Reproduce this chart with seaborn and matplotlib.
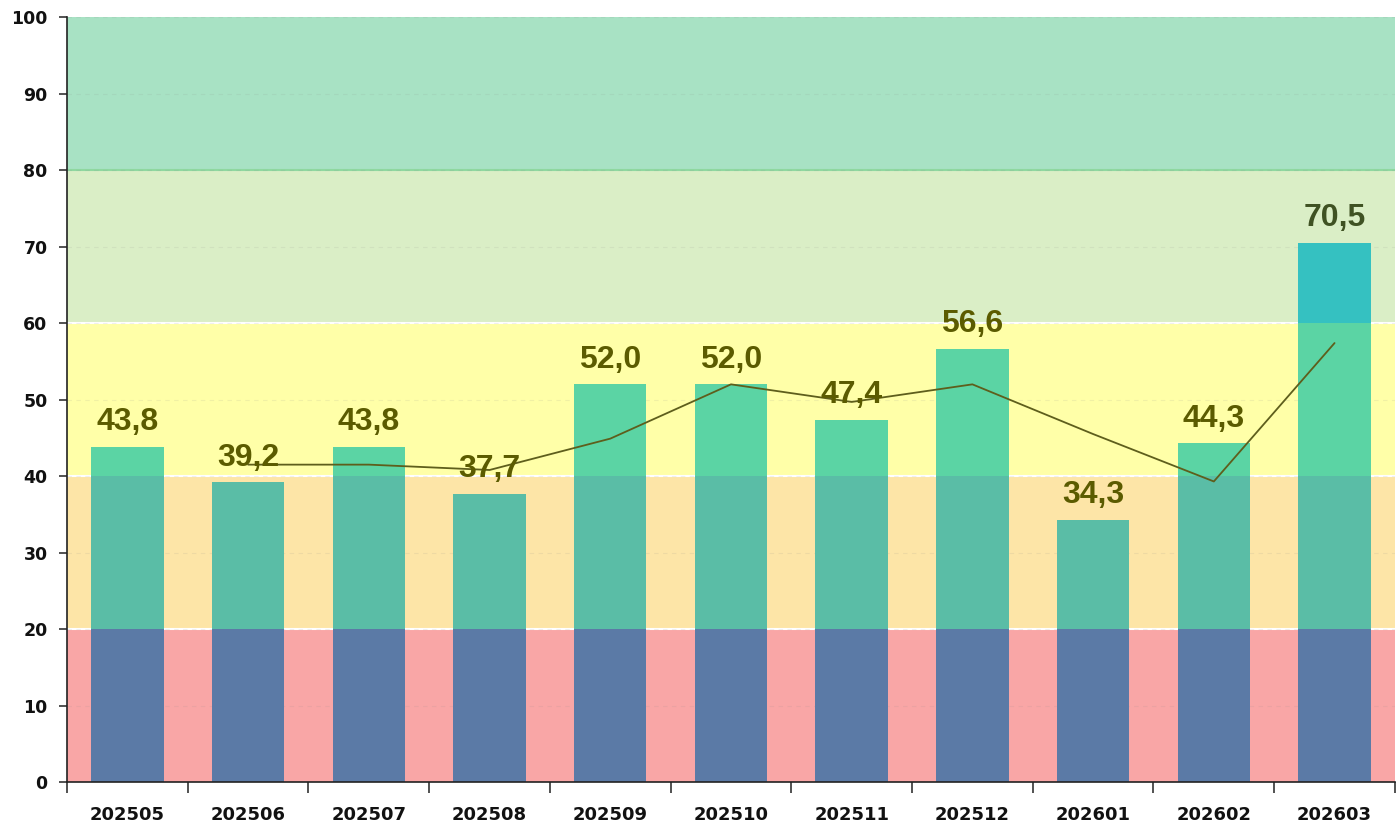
import numpy as np
import pandas as pd
import matplotlib
matplotlib.use("Agg")
import matplotlib.pyplot as plt
import seaborn as sns

months = ["202505", "202506", "202507", "202508", "202509", "202510",
          "202511", "202512", "202601", "202602", "202603"]
values = [43.8, 39.2, 43.8, 37.7, 52.0, 52.0, 47.4, 56.6, 34.3, 44.3, 70.5]
# thin trend line, starts at the second month
trend_values = [41.5, 41.5, 40.8, 44.9, 52.0, 49.7, 52.0, 45.5, 39.3, 57.4]
value_labels = ["43,8", "39,2", "43,8", "37,7", "52,0", "52,0",
                "47,4", "56,6", "34,3", "44,3", "70,5"]

# background zones (low, high, zone colour, bar colour inside zone)
band_lows = [0, 20, 40, 60, 80]
band_highs = [20, 40, 60, 80, 100]
band_colors = ["#F9A6A6", "#FDE5A7", "#FFFFA8", "#DAEEC6", "#A8E2C4"]
bar_colors = ["#5B7AA6", "#5ABDA6", "#5BD4A4", "#35C1C1", "#35C1C1"]

sns.set_style("white")
plt.rcParams["font.family"] = ["DejaVu Sans"]

fig = plt.figure(figsize=(13.97, 8.24), dpi=100)
ax = fig.add_axes([0.048, 0.051, 0.9505, 0.928])

for lo, hi, col in zip(band_lows, band_highs, band_colors):
    ax.axhspan(lo, hi, color=col, zorder=0, lw=0)
for b in [20, 40, 60]:
    ax.axhline(b, color="white", lw=1.5, zorder=0.5)
ax.axhline(80, color="#8FD8A0", lw=1.5, zorder=0.5)

ax.set_axisbelow(True)
ax.yaxis.grid(True, color="#888888", alpha=0.12, linestyle=(0, (4, 4)), lw=0.8)

df = pd.DataFrame({"month": months, "value": values})

# overlay bars from the top zone down so each zone gets its own shade
for lo, hi, col in reversed(list(zip(band_lows, band_highs, bar_colors))):
    clipped = np.minimum(df["value"], hi)
    if lo > 0 and (df["value"] <= lo).all():
        continue
    sns.barplot(x=df["month"], y=clipped, color=col, saturation=1,
                width=0.6, ax=ax, zorder=2, linewidth=0)

sns.lineplot(x=np.arange(1, len(months)), y=trend_values, ax=ax,
             color="#5E5E1C", lw=1.3, zorder=3)

label_font = ["Liberation Sans Narrow", "Liberation Sans", "DejaVu Sans"]
for i, (v, txt) in enumerate(zip(values, value_labels)):
    col = "#3F5223" if v > 60 else "#5B5B00"
    ax.annotate(txt, (i, v), xytext=(0, 7), textcoords="offset points",
                ha="center", va="bottom", fontsize=23, fontweight="bold",
                color=col, family=label_font, zorder=4)

ax.set_xlim(-0.5, len(months) - 0.5)
ax.set_ylim(0, 100)
ax.set_yticks(range(0, 101, 10))
ax.set_yticklabels([str(t) for t in range(0, 101, 10)], fontsize=12.5,
                   fontweight="bold", color="#111111")
ax.set_xticks(range(len(months)))
ax.set_xticklabels(months, fontsize=13, fontweight="bold", color="#111111")
ax.set_xticks(np.arange(-0.5, len(months)), minor=True)
ax.tick_params(axis="x", which="major", length=0, pad=17)
ax.tick_params(axis="x", which="minor", length=8, width=1.2, color="#333333",
               direction="out", bottom=True)
ax.tick_params(axis="y", length=6, width=1.2, color="#333333",
               direction="out", left=True, pad=8)
ax.set_xlabel("")
ax.set_ylabel("")

for s in ["top", "right"]:
    ax.spines[s].set_visible(False)
ax.spines["left"].set_color("#222222")
ax.spines["bottom"].set_color("#222222")
ax.spines["left"].set_linewidth(1.2)
ax.spines["bottom"].set_linewidth(1.2)

fig.savefig("out.png", dpi=100)
